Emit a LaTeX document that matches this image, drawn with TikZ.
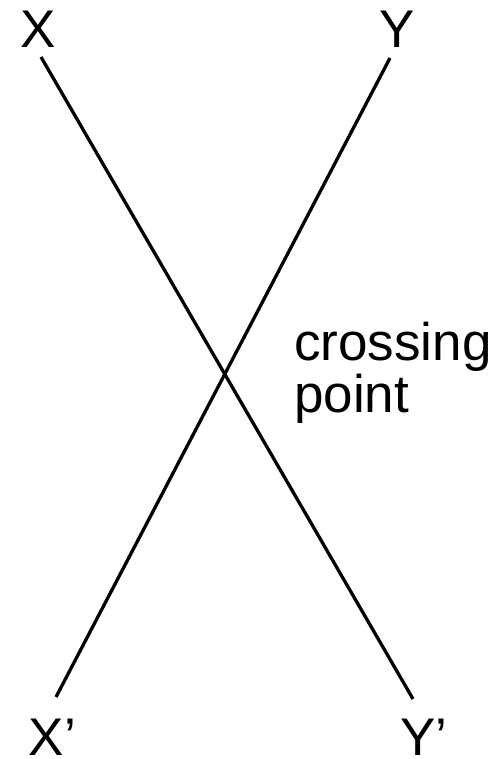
\documentclass[tikz,border=0pt]{standalone}
\usepackage{fontspec}
\setmainfont{Liberation Sans}
\begin{document}
\begin{tikzpicture}[x=1pt,y=-1pt,
  lbl/.style={inner sep=0pt,anchor=base west,font=\fontsize{53}{53}\selectfont},
  ln/.style={line width=3.3pt,black}]
\useasboundingbox (0,0) rectangle (498,759);
\node[lbl] (X) at (20.5,48) {X};
\node[lbl] (Y) at (379,48) {Y};
\node[lbl] (Xp) at (28.5,755.5) {X’};
\node[lbl] (Yp) at (400,755.5) {Y’};
\node[lbl,align=left,font=\fontsize{53}{52}\selectfont] (cp) at (294,412) {crossing\\point};
\coordinate (xa) at (41,57);
\coordinate (xb) at (413,699);
\coordinate (ya) at (390,58);
\coordinate (yb) at (56,697);
\draw[ln] (xa) -- (xb);
\draw[ln] (ya) -- (yb);
\end{tikzpicture}
\end{document}
